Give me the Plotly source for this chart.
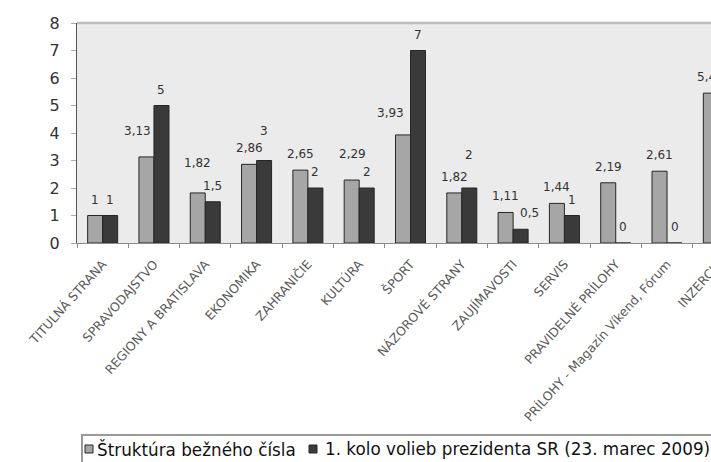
import plotly.graph_objects as go

# Sections of the daily and their share of pages
categories = [
    "TITULNÁ STRANA", "SPRAVODAJSTVO", "REGIONY A BRATISLAVA", "EKONOMIKA",
    "ZAHRANIČIE", "KULTÚRA", "ŠPORT", "NÁZOROVÉ STRANY", "ZAUJÍMAVOSTI",
    "SERVIS", "PRAVIDELNÉ PRÍLOHY", "PRÍLOHY - Magazín Víkend, Fórum", "INZERCIA",
]
structure = [1, 3.13, 1.82, 2.86, 2.65, 2.29, 3.93, 1.82, 1.11, 1.44, 2.19, 2.61, 5.45]
election = [1, 5, 1.5, 3, 2, 2, 7, 2, 0.5, 1, 0, 0, 0]
series_names = ["Štruktúra bežného čísla", "1. kolo volieb prezidenta SR (23. marec 2009)"]
y_ticks = [0, 1, 2, 3, 4, 5, 6, 7, 8]

# pixel nudges (dx, dy) for value labels that sit off their default spot
structure_nudge = {1: (-9, 10), 2: (0, 14), 5: (1, 10), 6: (-13, 6)}
election_nudge = {3: (0, 14), 7: (0, 17), 8: (9, 0)}

FONT = "DejaVu Sans"
LIGHT, DARK, EDGE = "#a6a6a6", "#3a3a3a", "#262626"
W, H = 800, 462
ML, MR, MT, MB = 77, 56, 23, 219
PW, PH = W - ML - MR, H - MT - MB


def px(x, y):
    """Page pixel position -> paper coordinates of the plot area."""
    return (x - ML) / PW, (H - MB - y) / PH


def fmt(v):
    return f"{v:g}".replace(".", ",")


fig = go.Figure()
fig.add_bar(x=categories, y=structure, name=series_names[0],
            marker=dict(color=LIGHT, line=dict(color=EDGE, width=1)))
fig.add_bar(x=categories, y=election, name=series_names[1],
            marker=dict(color=DARK, line=dict(color=EDGE, width=1)))

bar_half = 7.5
annotations = []
for values, side, nudge in ((structure, -1, structure_nudge), (election, 1, election_nudge)):
    for i, v in enumerate(values):
        dx, dy = nudge.get(i, (0, 0))
        annotations.append(dict(
            x=categories[i], y=v, xref="x", yref="y", text=fmt(v), showarrow=False,
            xshift=side * bar_half + dx, yshift=16 + dy, yanchor="middle",
            font=dict(family=FONT, size=12, color="#333333"),
        ))

# legend drawn as a framed row below the axis labels
bx0, by0 = px(82, 435)
bx1, by1 = px(790, 478)
shapes = [
    dict(type="line", xref="paper", yref="paper", x0=0, x1=1, y0=1, y1=1,
         line=dict(color="#bdbdbd", width=2.5)),
    dict(type="rect", xref="paper", yref="paper", x0=bx0, x1=bx1, y0=by0, y1=by1,
         line=dict(color="#9a9a9a", width=2), fillcolor="white"),
]
for (sx, tx), color, name in (((85, 95), LIGHT, series_names[0]), ((309, 323), DARK, series_names[1])):
    sx0, sy0 = px(sx, 445)
    sx1, sy1 = px(sx + 8, 453)
    shapes.append(dict(type="rect", xref="paper", yref="paper", x0=sx0, x1=sx1, y0=sy0, y1=sy1,
                       fillcolor=color, line=dict(color=EDGE, width=1)))
    ax_, ay_ = px(tx, 449)
    annotations.append(dict(x=ax_, y=ay_, xref="paper", yref="paper", text=name, showarrow=False,
                            xanchor="left", yanchor="middle",
                            font=dict(family=FONT, size=16.8, color="#111111")))

fig.update_layout(
    width=W, height=H,
    margin=dict(l=ML, r=MR, t=MT, b=MB, pad=0),
    paper_bgcolor="white", plot_bgcolor="#ebebeb",
    barmode="group", bargap=0.415, bargroupgap=0,
    showlegend=False,
    font=dict(family=FONT, color="#333333"),
    annotations=annotations, shapes=shapes,
)
fig.update_xaxes(
    type="category", range=[-0.5, len(categories) - 0.5],
    showline=True, linecolor="#8c8c8c", linewidth=1,
    ticks="outside", tickson="boundaries", ticklen=4, tickcolor="#8c8c8c",
    tickangle=-48, tickfont=dict(family=FONT, size=12.5, color="#5a5a5a"),
    ticklabelstandoff=8, showgrid=False,
)
fig.update_yaxes(
    range=[0, 8], tickvals=y_ticks,
    showline=True, linecolor="#555555", linewidth=1,
    ticks="outside", ticklen=5, tickcolor="#aaaaaa",
    tickfont=dict(family=FONT, size=16, color="#333333"),
    showgrid=False, zeroline=False, ticklabelstandoff=8,
)

fig.write_html("out.html", post_script="document.documentElement.style.overflow='hidden';"
                                       "document.body.style.overflow='hidden';")
